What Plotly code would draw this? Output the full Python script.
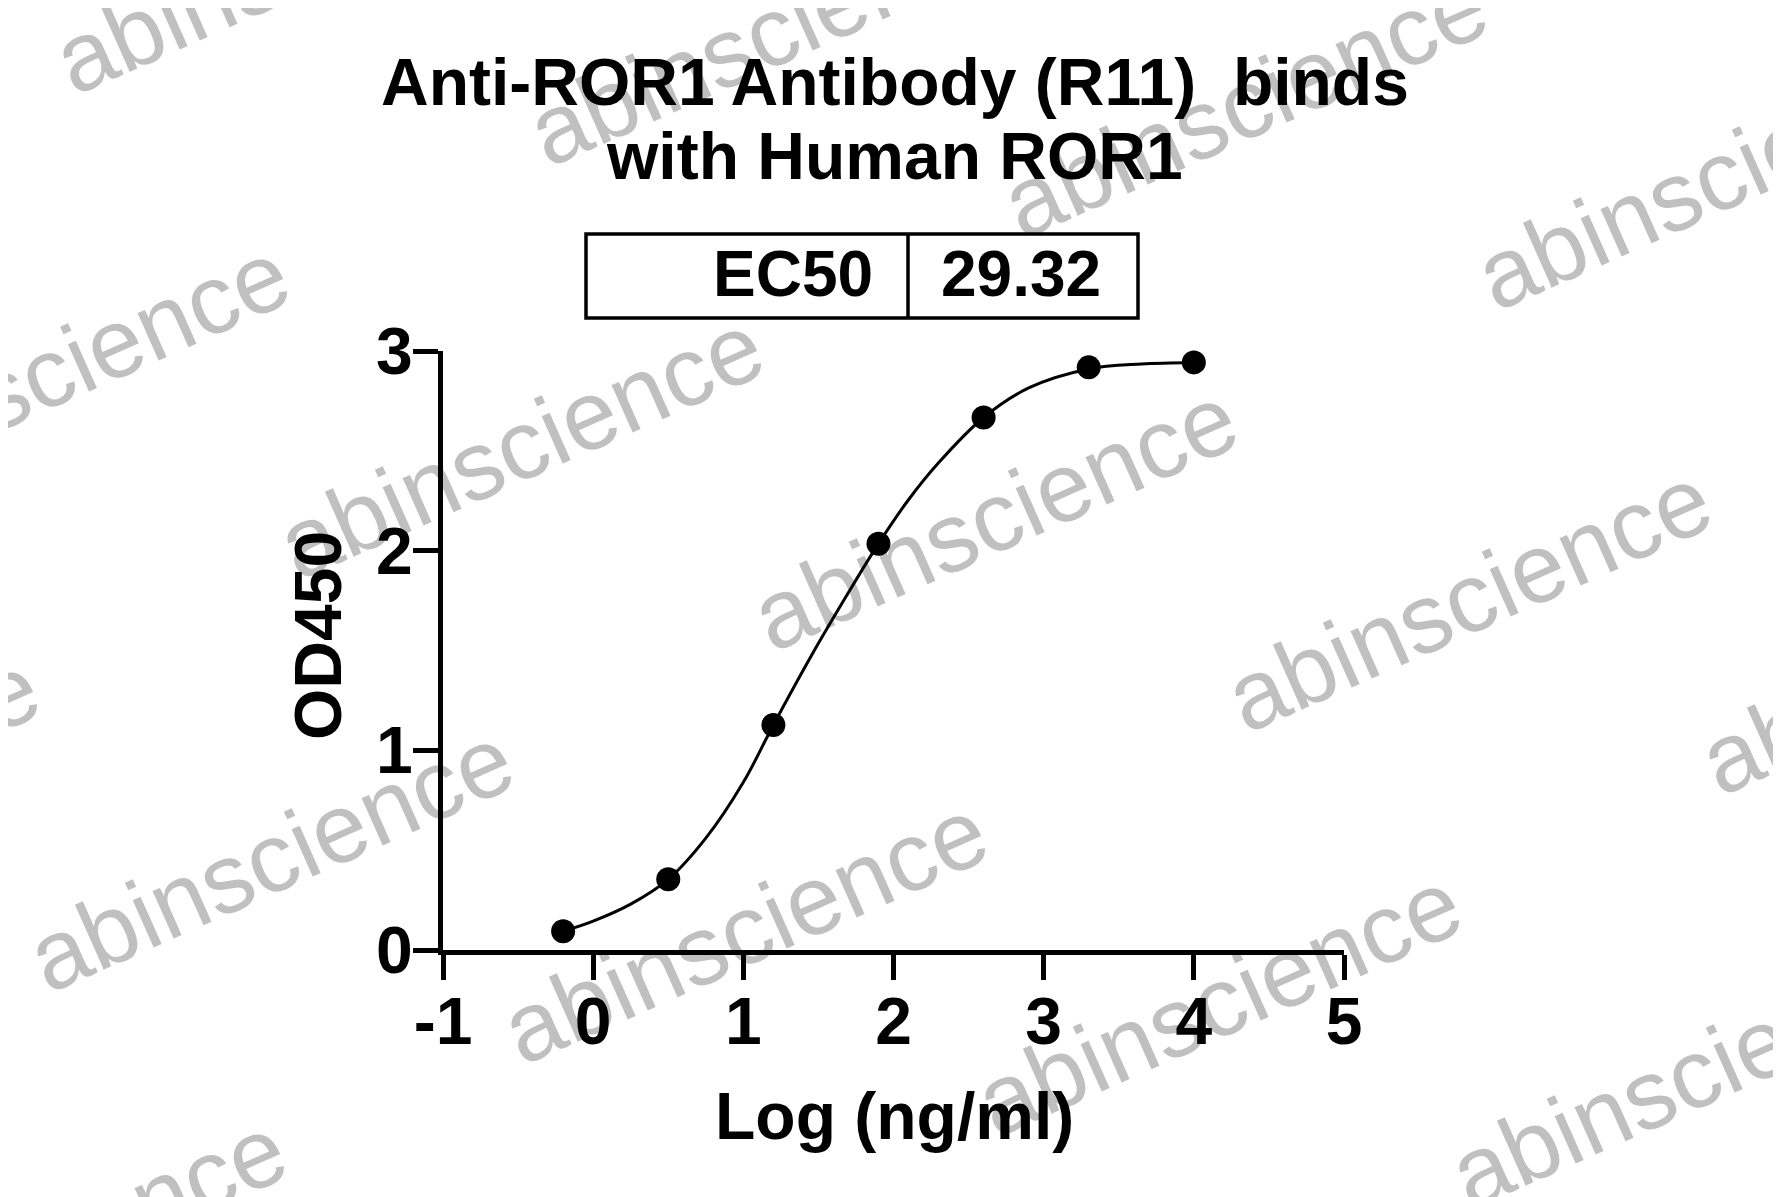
import plotly.graph_objects as go

# ---- data ----
log_conc = [-0.2, 0.5, 1.2, 1.9, 2.6, 3.3, 4.0]
od450 = [0.094, 0.354, 1.127, 2.035, 2.667, 2.918, 2.943]

# fitted curve
curve_x = [-0.2, 0.0, 0.25, 0.5, 0.75, 1.0, 1.2, 1.45, 1.7, 1.9, 2.1, 2.3, 2.6, 2.9, 3.3, 3.65, 4.0]
curve_y = [0.094, 0.145, 0.23, 0.354, 0.56, 0.84, 1.127, 1.47, 1.79, 2.035, 2.255, 2.44, 2.667, 2.815, 2.91, 2.935, 2.943]

x_ticks = [-1, 0, 1, 2, 3, 4, 5]
y_ticks = [0, 1, 2, 3]
title_lines = ["Anti-ROR1 Antibody (R11)  binds", "with Human ROR1"]
ec50_label = "EC50"
ec50_value = "29.32"
watermark = "abinscience"

W, H = 1781, 1197
OFF = 8  # page body margin added by the browser
L, R, T, B = 443 - OFF, 1344 - OFF, 351 - OFF, 950 - OFF  # plot area in figure pixels
FONT = "Liberation Sans, Arial, sans-serif"


def px(xp):
    return (xp - OFF - L) / (R - L)


def py(yp):
    return (B - (yp - OFF)) / (B - T)


fig = go.Figure()

fig.add_trace(go.Scatter(
    x=curve_x, y=curve_y, mode="lines",
    line=dict(color="black", width=3, shape="spline", smoothing=1.0),
    hoverinfo="skip", showlegend=False, cliponaxis=False,
))
fig.add_trace(go.Scatter(
    x=log_conc, y=od450, mode="markers",
    marker=dict(color="black", size=24, symbol="circle"),
    showlegend=False, cliponaxis=False,
))

shapes = []
# watermark tiles (centres in page pixels)
wm_centres = [
    (293, -48), (767, 24), (1241, 96), (1715, 168),
    (43, 365), (517, 437), (991, 509), (1465, 590), (1939, 653),
    (-207, 778), (267, 850), (741, 922), (1215, 994), (1689, 1066),
    (40, 1240),
]
for cx, cy in wm_centres:
    shapes.append(dict(
        type="rect", xref="paper", yref="paper",
        x0=px(cx) - 0.0005, x1=px(cx) + 0.0005,
        y0=py(cy) - 0.0005, y1=py(cy) + 0.0005,
        line=dict(width=0), fillcolor="rgba(0,0,0,0)", layer="below",
        label=dict(text=watermark, textangle=-24, textposition="middle center",
                   font=dict(family=FONT, size=98, color="#c0c0c0")),
    ))

# EC50 table box
shapes.append(dict(type="rect", xref="paper", yref="paper",
                   x0=px(586), x1=px(1138), y0=py(318), y1=py(234),
                   line=dict(color="black", width=3.5), fillcolor="rgba(0,0,0,0)",
                   layer="above"))
shapes.append(dict(type="line", xref="paper", yref="paper",
                   x0=px(908), x1=px(908), y0=py(318), y1=py(234),
                   line=dict(color="black", width=3.5), layer="above"))

annotations = [
    dict(text="<b>%s</b>" % title_lines[0], x=px(895), y=py(82), xref="paper", yref="paper",
         showarrow=False, xanchor="center", yanchor="middle",
         font=dict(family=FONT, size=66, color="black")),
    dict(text="<b>%s</b>" % title_lines[1], x=px(894), y=py(156), xref="paper", yref="paper",
         showarrow=False, xanchor="center", yanchor="middle",
         font=dict(family=FONT, size=66, color="black")),
    dict(text="<b>%s</b>" % ec50_label, x=px(875), y=py(274), xref="paper", yref="paper",
         showarrow=False, xanchor="right", yanchor="middle",
         font=dict(family=FONT, size=64, color="black")),
    dict(text="<b>%s</b>" % ec50_value, x=px(1021), y=py(274), xref="paper", yref="paper",
         showarrow=False, xanchor="center", yanchor="middle",
         font=dict(family=FONT, size=64, color="black")),
    dict(text="<b>OD450</b>", x=px(318), y=py(636), xref="paper", yref="paper",
         showarrow=False, xanchor="center", yanchor="middle", textangle=-90,
         font=dict(family=FONT, size=66, color="black")),
    dict(text="<b>Log (ng/ml)</b>", x=px(894), y=py(1116), xref="paper", yref="paper",
         showarrow=False, xanchor="center", yanchor="middle",
         font=dict(family=FONT, size=66, color="black")),
]

fig.update_layout(
    width=W, height=H,
    margin=dict(l=L, r=W - R, t=T, b=H - B, pad=0),
    paper_bgcolor="white", plot_bgcolor="white",
    shapes=shapes, annotations=annotations,
    showlegend=False,
)
fig.update_xaxes(
    range=[-1, 5], tickvals=x_ticks, ticktext=[str(v) for v in x_ticks],
    showgrid=False, zeroline=False, showline=True, linecolor="black", linewidth=5,
    ticks="outside", ticklen=25, tickwidth=5, tickcolor="black",
    tickfont=dict(family=FONT, size=66, color="black", weight="bold"),
    ticklabelstandoff=-15,
)
fig.update_yaxes(
    range=[0, 3], tickvals=y_ticks, ticktext=[str(v) for v in y_ticks],
    showgrid=False, zeroline=False, showline=True, linecolor="black", linewidth=5,
    ticks="outside", ticklen=25, tickwidth=5, tickcolor="black",
    tickfont=dict(family=FONT, size=66, color="black", weight="bold"),
    ticklabelstandoff=-13,
)

fig.write_html("out.html")
